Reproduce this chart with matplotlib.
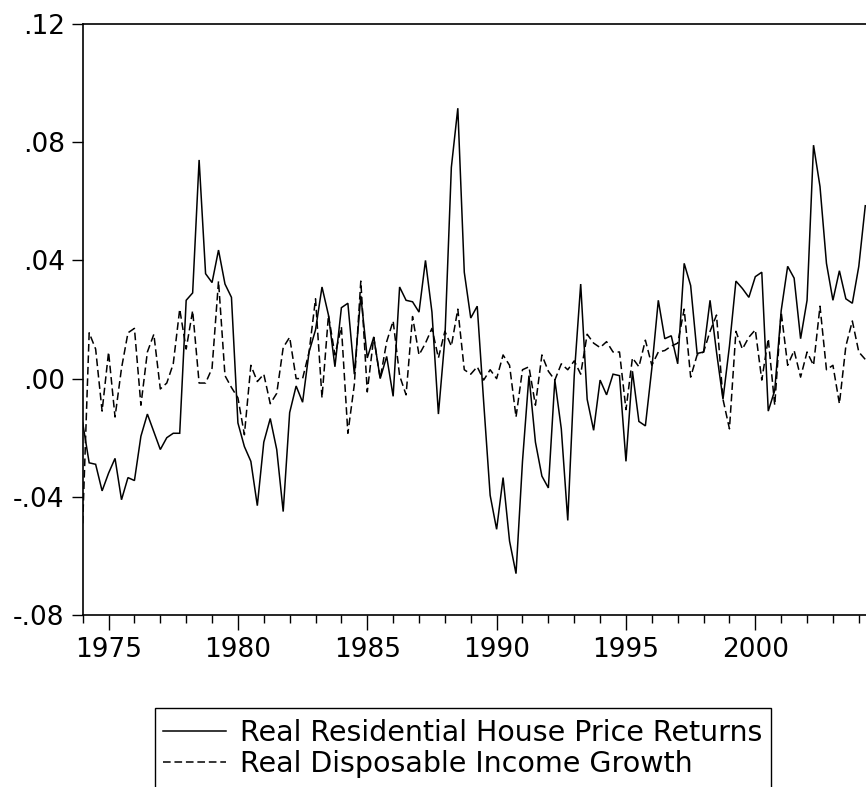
import numpy as np
import pandas as pd
import matplotlib
matplotlib.use("Agg")
import matplotlib.pyplot as plt
from matplotlib.patches import Rectangle
from matplotlib.ticker import MultipleLocator, FuncFormatter

# quarterly data, 1974Q1 onwards
house_returns = [
    -0.015, -0.0285, -0.029, -0.038, -0.032, -0.027, -0.041, -0.0335,
    -0.0345, -0.0195, -0.012, -0.018, -0.024, -0.020, -0.0185, -0.0185,
    0.0265, 0.029, 0.074, 0.0355, 0.0325, 0.0435, 0.032, 0.0275,
    -0.015, -0.023, -0.028, -0.043, -0.0215, -0.0135, -0.024, -0.045,
    -0.0115, -0.0025, -0.008, 0.009, 0.0165, 0.031, 0.0215, 0.004,
    0.024, 0.0255, 0.0015, 0.028, 0.007, 0.014, 0.0, 0.0075,
    -0.006, 0.031, 0.0265, 0.026, 0.0225, 0.040, 0.0225, -0.012,
    0.0135, 0.0715, 0.0915, 0.036, 0.0205, 0.0245, -0.008, -0.0395,
    -0.051, -0.0335, -0.055, -0.066, -0.028, 0.001, -0.0215, -0.033,
    -0.037, -0.0005, -0.017, -0.048, 0.001, 0.032, -0.007, -0.0175,
    -0.0005, -0.0055, 0.0015, 0.001, -0.028, 0.0025, -0.0145, -0.016,
    0.0035, 0.0265, 0.0135, 0.0145, 0.005, 0.039, 0.0315, 0.0085,
    0.009, 0.0265, 0.009, -0.007, 0.011, 0.033, 0.0305, 0.0275,
    0.0345, 0.036, -0.011, -0.004, 0.023, 0.038, 0.034, 0.0135,
    0.0265, 0.079, 0.065, 0.039, 0.0265, 0.0365, 0.027, 0.0255,
    0.038, 0.0585,
]
income_growth = [
    -0.049, 0.0155, 0.010, -0.011, 0.009, -0.013, 0.0035, 0.0155,
    0.017, -0.009, 0.009, 0.015, -0.0035, -0.0015, 0.005, 0.0235,
    0.010, 0.023, -0.0015, -0.0015, 0.0035, 0.033, 0.001, -0.003,
    -0.0065, -0.019, 0.0045, -0.001, 0.0015, -0.0085, -0.005, 0.0105,
    0.014, 0.0, 0.0, 0.009, 0.027, -0.0065, 0.0215, 0.008,
    0.0175, -0.0185, -0.002, 0.033, -0.0045, 0.014, 0.0, 0.0125,
    0.0195, 0.001, -0.0055, 0.021, 0.008, 0.012, 0.017, 0.007,
    0.016, 0.011, 0.0235, 0.003, 0.0015, 0.004, -0.0005, 0.003,
    0.0, 0.008, 0.0045, -0.013, 0.003, 0.004, -0.009, 0.008,
    0.0025, -0.0005, 0.005, 0.003, 0.006, 0.0015, 0.015, 0.012,
    0.0105, 0.0125, 0.009, 0.009, -0.0105, 0.007, 0.004, 0.013,
    0.0045, 0.009, 0.0095, 0.011, 0.012, 0.0235, 0.0005, 0.008,
    0.009, 0.016, 0.0215, -0.007, -0.017, 0.016, 0.010, 0.014,
    0.0165, -0.0005, 0.0135, -0.009, 0.0225, 0.0045, 0.0095, 0.0005,
    0.009, 0.0045, 0.0245, 0.003, 0.0045, -0.0085, 0.011, 0.0195,
    0.009, 0.0065,
]
legend_labels = ["Real Residential House Price Returns",
                 "Real Disposable Income Growth"]
year_ticks = [1975, 1980, 1985, 1990, 1995, 2000]

quarters = pd.period_range("1974Q1", periods=len(house_returns), freq="Q")
t = quarters.year + (quarters.quarter - 1) / 4.0

plt.rcParams["font.family"] = ["DejaVu Sans"]

fig = plt.figure(figsize=(8.66, 7.87), dpi=100)
W, H = 866, 787
ax = fig.add_axes([82.7 / W, 1 - 615 / H, (W - 82.7) / W, (615 - 24) / H])

l1, = ax.plot(t, house_returns, color="black", lw=1.1, solid_joinstyle="miter")
l2, = ax.plot(t, income_growth, color="black", lw=1.1, linestyle=(0, (5, 2.5)))

ax.set_xlim(1974.0, 1974.0 + (W - 82.7) / 25.87)
ax.set_ylim(-0.08, 0.12)
ax.set_xticks(year_ticks)
ax.xaxis.set_minor_locator(MultipleLocator(1))
ax.yaxis.set_major_locator(MultipleLocator(0.04))
ax.yaxis.set_major_formatter(FuncFormatter(lambda v, p: ("%.2f" % v).replace("0.", ".")))

ax.spines["right"].set_visible(False)
for s in ["left", "bottom", "top"]:
    ax.spines[s].set_linewidth(1.2)
ax.tick_params(axis="y", which="major", direction="out", length=8, width=1.0,
               labelsize=19, pad=5)
ax.tick_params(axis="x", which="major", direction="out", length=11, width=1.0,
               labelsize=19, pad=5)
ax.tick_params(axis="x", which="minor", direction="out", length=6, width=1.0)

# legend box runs off the bottom of the picture
fig.patches.append(Rectangle((155 / W, 1 - 800 / H), (771 - 155) / W, 92 / H,
                             transform=fig.transFigure, fill=False,
                             edgecolor="black", linewidth=1.0))
leg = fig.legend([l1, l2], legend_labels, loc="upper left",
                 bbox_to_anchor=(163 / W, 1 - 719 / H), fontsize=20.5,
                 frameon=False, handlelength=2.2, handletextpad=0.5,
                 borderpad=0, labelspacing=0.12, borderaxespad=0)

fig.savefig("out.png", dpi=100)
